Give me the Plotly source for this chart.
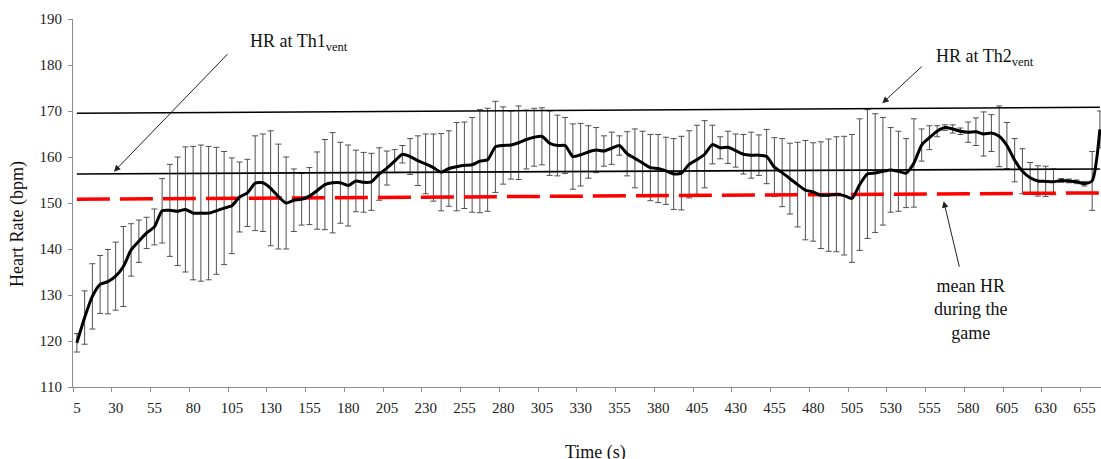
import plotly.graph_objects as go

# ---- data ----
time_s = list(range(5, 670, 5))
hr_mean = [119.6, 125.1, 129.7, 132.3, 132.9, 134.1, 136.2, 139.8, 141.7, 143.5,
           144.8, 148.3, 148.4, 148.2, 148.6, 147.8, 147.8, 147.8, 148.3, 148.9,
           149.4, 151.3, 152.2, 154.3, 154.4, 153.2, 151.4, 150.0, 150.6, 150.8,
           151.5, 152.7, 154.0, 154.4, 154.4, 153.8, 154.8, 154.5, 154.6, 156.3,
           157.6, 159.1, 160.6, 160.1, 159.2, 158.5, 157.7, 156.7, 157.5, 157.9,
           158.2, 158.3, 159.1, 159.4, 162.2, 162.5, 162.6, 163.1, 163.8, 164.3,
           164.5, 163.0, 162.5, 162.5, 160.1, 160.5, 161.1, 161.5, 161.3, 161.9,
           162.5, 160.7, 159.7, 158.7, 157.7, 157.5, 157.0, 156.3, 156.5, 158.4,
           159.4, 160.6, 162.7, 162.0, 162.1, 161.4, 160.6, 160.4, 160.4, 160.1,
           157.8, 156.6, 155.3, 154.0, 152.8, 152.4, 151.7, 151.7, 151.9, 151.6,
           151.0, 154.0, 156.3, 156.5, 156.9, 157.2, 156.9, 156.5, 158.7, 162.6,
           164.2, 165.6, 166.4, 166.1, 165.6, 165.4, 165.5, 165.0, 165.2, 164.5,
           162.5, 159.3, 156.9, 155.5, 154.8, 154.7, 154.6, 154.9, 154.8, 154.6,
           154.2, 154.8, 166.0]
hr_sd = [2.0, 5.8, 7.1, 6.3, 7.0, 7.4, 8.7, 5.7, 4.6, 3.4,
         3.9, 7.0, 10.0, 11.8, 13.6, 14.5, 14.8, 14.5, 13.8, 12.3,
         10.4, 7.6, 7.3, 10.3, 10.6, 12.5, 11.4, 10.0, 6.8, 5.6,
         6.2, 8.4, 9.8, 10.9, 8.8, 8.8, 6.7, 6.5, 6.2, 5.7,
         3.7, 2.5, 1.9, 3.9, 5.4, 6.5, 7.3, 8.4, 8.2, 9.6,
         9.4, 10.3, 11.2, 11.2, 9.9, 8.4, 7.4, 8.0, 6.4, 6.3,
         6.2, 7.0, 6.6, 6.1, 7.1, 6.8, 5.7, 4.9, 3.3, 3.5,
         2.1, 4.8, 6.4, 6.9, 7.2, 7.4, 7.3, 7.7, 8.0, 7.3,
         7.5, 7.3, 4.2, 2.4, 3.5, 3.6, 4.3, 5.0, 4.4, 5.9,
         6.4, 7.4, 7.7, 9.2, 10.8, 10.7, 11.6, 12.2, 12.5, 12.9,
         13.9, 14.3, 14.0, 12.9, 11.7, 9.2, 8.7, 7.5, 9.6, 3.5,
         2.6, 1.2, 0.6, 0.9, 0.7, 2.2, 3.0, 4.8, 4.0, 6.6,
         5.0, 4.7, 4.9, 3.3, 3.3, 3.3, 2.8, 0.4, 0.4, 0.4,
         0.5, 6.4, 4.0]

th2_x = [5, 665]
th2_y = [169.5, 170.8]
th1_x = [5, 665]
th1_y = [156.3, 157.4]
mean_x = [5, 665]
mean_y = [150.8, 152.2]

x_ticks = list(range(5, 656, 25))
x_tick_labels = [str(v) for v in x_ticks]
x_boundaries = [v - 2.5 for v in x_ticks]
y_ticks = list(range(110, 191, 10))

FONT = "Liberation Serif, Times New Roman, serif"
AXIS_GRAY = "#8c8c8c"

fig = go.Figure()

# error bars
fig.add_trace(go.Scatter(
    x=time_s, y=hr_mean, mode="markers",
    marker=dict(size=1, color="rgba(0,0,0,0)"),
    error_y=dict(type="data", array=hr_sd, visible=True,
                 color="#505050", thickness=1, width=3),
    showlegend=False, hoverinfo="skip"))

# threshold lines
fig.add_trace(go.Scatter(x=th2_x, y=th2_y, mode="lines",
                         line=dict(color="black", width=1.6), showlegend=False))
fig.add_trace(go.Scatter(x=th1_x, y=th1_y, mode="lines",
                         line=dict(color="black", width=1.6), showlegend=False))
fig.add_trace(go.Scatter(x=mean_x, y=mean_y, mode="lines",
                         line=dict(color="#ff0000", width=3.5, dash="33px,10px"),
                         showlegend=False))

# main HR line
fig.add_trace(go.Scatter(x=time_s, y=hr_mean, mode="lines",
                         line=dict(color="black", width=3, shape="spline", smoothing=0.6),
                         showlegend=False))

fig.update_layout(
    width=1101, height=459,
    margin=dict(l=73, r=0, t=19, b=72, autoexpand=False),
    paper_bgcolor="white", plot_bgcolor="white",
    font=dict(family=FONT, color="#222222", size=15),
    xaxis=dict(range=[2.5, 665.7], showgrid=False, zeroline=False, automargin=False,
               showline=True, linecolor=AXIS_GRAY, linewidth=1,
               tickmode="array", tickvals=x_ticks, ticktext=x_tick_labels,
               ticks="", ticklabelstandoff=7,
               tickfont=dict(family=FONT, size=15, color="#222222"),
               minor=dict(tickmode="array", tickvals=x_boundaries,
                          ticks="outside", ticklen=4, tickcolor=AXIS_GRAY,
                          showgrid=False)),
    yaxis=dict(range=[110, 190], showgrid=False, zeroline=False, automargin=False,
               showline=True, linecolor=AXIS_GRAY, linewidth=1,
               tickmode="array", tickvals=y_ticks,
               ticks="outside", ticklen=4, tickcolor=AXIS_GRAY,
               ticklabelstandoff=3,
               tickfont=dict(family=FONT, size=15, color="#222222")),
)

ann_font = dict(family=FONT, size=18, color="#111111")

# axis titles
fig.add_annotation(text="Time (s)", xref="paper", yref="paper", x=(595 - 73) / 1028, y=0,
                   yanchor="middle", yshift=-65, showarrow=False, font=ann_font)
fig.add_annotation(text="Heart Rate (bpm)", xref="paper", yref="paper", x=0, y=(387 - 224) / 368,
                   xanchor="center", xshift=-56, textangle=-90, showarrow=False, font=ann_font)

# text labels
fig.add_annotation(text="HR at Th1<sub>vent</sub>", xref="paper", yref="paper",
                   x=(248 - 73) / 1028, y=(387 - 43) / 368, xanchor="left", yanchor="middle",
                   showarrow=False, font=ann_font)
fig.add_annotation(text="HR at Th2<sub>vent</sub>", xref="paper", yref="paper",
                   x=(934 - 73) / 1028, y=(387 - 58) / 368, xanchor="left", yanchor="middle",
                   showarrow=False, font=ann_font)
fig.add_annotation(text="mean HR<br>during the<br>game", xref="paper", yref="paper",
                   x=(971 - 73) / 1028, y=(387 - 309) / 368, xanchor="center", yanchor="middle",
                   showarrow=False, font=ann_font)

# arrows
arrow_style = dict(text="", showarrow=True, arrowhead=2, arrowsize=1.3,
                   arrowwidth=1, arrowcolor="#222222", xref="x", yref="y")
fig.add_annotation(x=28.9, y=156.8, ax=115, ay=-119, **arrow_style)
fig.add_annotation(x=524.6, y=171.7, ax=41, ay=-38, **arrow_style)
fig.add_annotation(x=564.2, y=150.4, ax=16, ay=67, **arrow_style)

fig.write_html("out.html",
               config={"displayModeBar": False},
               post_script="document.body.style.margin='0px';document.body.style.overflow='hidden';")
